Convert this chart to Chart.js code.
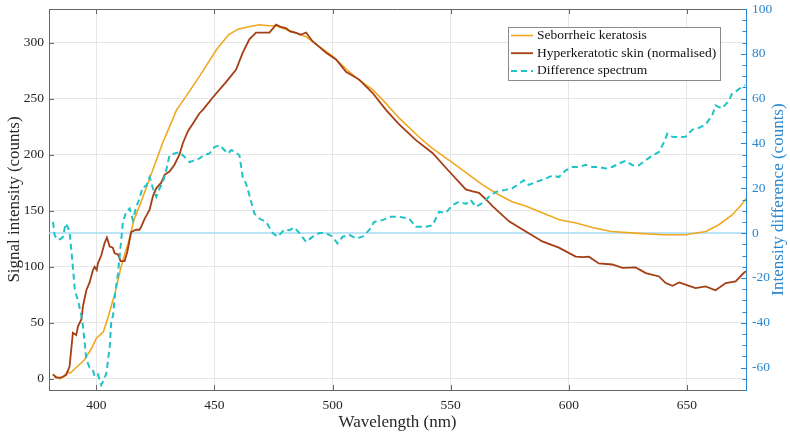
<!DOCTYPE html>
<html>
<head>
<meta charset="utf-8">
<script src="https://cdn.jsdelivr.net/npm/chart.js@4.4.1/dist/chart.umd.min.js"></script>
<style>
  html, body { margin: 0; padding: 0; background: #ffffff; }
  #c { display: block; }
</style>
</head>
<body>
<canvas id="c" width="790" height="435"></canvas>
<script>
// ---------------- DATA ----------------
const seborrheicWl = [381.5, 384.5, 386.5, 387.5, 389, 392, 395, 398, 400, 403, 405, 408, 410.5, 413.5, 416, 419, 422.5, 428, 434, 438, 444, 451, 456, 460, 464, 469, 473, 476, 480, 483, 489, 494, 500, 506, 511, 517, 522.5, 528, 536.5, 542, 550, 556.5, 563.5, 570.5, 576, 582, 589, 596, 603, 610, 618, 628, 640, 649.5, 658, 663.5, 669, 673, 675];
const seborrheicVal = [4, 0, 2, 6, 5, 11, 17, 27, 36, 42, 55, 77, 100, 121, 142, 158, 178, 210, 240, 252, 271, 294, 307, 312, 314, 316, 315, 315, 312, 310, 305, 297, 288, 276, 267, 258, 246, 233, 216, 206, 194, 184, 173, 164, 158, 154, 148, 142, 139, 135, 131.5, 130, 128.5, 128.5, 131.5, 137.5, 146, 155, 161];

const hyperWl = [381.7, 383, 385, 387.3, 388.7, 390.1, 391.5, 392.3, 393.7, 394.4, 395.8, 397.2, 398.6, 399.3, 400.2, 400.7, 402.1, 403.5, 404.5, 405.7, 407, 407.8, 409.2, 410.3, 412, 413.1, 414.8, 416.9, 418.3, 419.1, 420.5, 422.6, 424, 425.4, 427.5, 428.9, 431, 433.1, 435.2, 436.6, 438.8, 441, 443.7, 445.1, 449.3, 455, 459.2, 462, 464.8, 467.6, 470, 473.3, 476.1, 478, 480.3, 482, 484.6, 486.5, 488.8, 491.6, 494.5, 497.3, 501.5, 505.7, 511.3, 517, 522.6, 528.2, 535.3, 542.3, 549.4, 556.4, 559, 562, 565, 567.7, 574.7, 581.8, 588.8, 595.8, 602.9, 606, 608.5, 612.7, 618.4, 622.7, 628.3, 632.6, 638.2, 641, 643.9, 646.7, 650.9, 653.7, 657.9, 662.1, 666.4, 670.6, 674, 675];
const hyperVal = [4, 1, 1, 3.6, 11, 41, 39, 47, 53, 65, 79, 86, 97, 100, 97, 103, 110, 121, 126, 118, 117, 112, 111, 105, 105, 113, 131, 133, 133, 136, 143, 151, 163, 170, 175, 182, 185, 191, 200, 210, 221, 228, 237, 240, 251, 265, 276, 291, 303, 309, 309, 309, 316, 314, 313, 310, 308.6, 307, 309, 301, 296, 291, 285, 274, 267, 255, 240, 227, 213, 201.5, 185, 169, 167.5, 166, 160, 154, 140.5, 131.5, 122.6, 117, 109, 108.5, 109, 103, 102, 99, 99.4, 94.3, 91.3, 85.4, 83, 86, 83, 81, 82.4, 79, 85.4, 87, 94.4, 96];

const diffWl = [381.7, 382.4, 383.8, 385.3, 386, 387, 388, 388.7, 390.1, 390.9, 391.5, 392.3, 393, 393.7, 394.4, 395.1, 395.8, 397.2, 398.6, 399.3, 400.7, 402.1, 403.2, 404.3, 405.7, 406.4, 407.1, 408, 409.2, 410.3, 411.3, 412.7, 414.1, 415.5, 416.9, 418.3, 419.7, 421.1, 422.6, 424, 425.4, 426.8, 428.2, 429.6, 431, 433.1, 435.2, 437.4, 439.5, 441.6, 443.7, 445.8, 447.9, 450, 452.2, 454.3, 455.7, 457.1, 458.5, 460.6, 462, 463.4, 464.8, 466.9, 469, 471.9, 474.7, 476.8, 479.6, 481.7, 483.8, 486, 488.8, 491.6, 494.4, 497.3, 500, 502.1, 504.3, 507.1, 509.9, 512.7, 515.5, 517.6, 521.1, 524.7, 528.2, 532.4, 535.3, 539.5, 542.3, 545.1, 547.9, 550.7, 553.6, 556.4, 558.5, 560.6, 563.4, 566.2, 569.1, 573.3, 576.1, 578.9, 581, 583.1, 586, 590.2, 593, 595.8, 598.7, 601.5, 604.3, 607.1, 609.9, 612.7, 615.6, 618.4, 621.2, 624, 626.9, 629.7, 632.5, 635.4, 638.2, 640.3, 641.7, 643.8, 646.6, 649.4, 652.3, 655.1, 657.9, 660.7, 662.1, 664.8, 667.7, 669, 673, 674.5];
const diffVal = [5, -1, -3, -2.4, -1.5, 4.3, 2.5, 0.6, -15, -25, -27.6, -30, -33.5, -37, -41.7, -49, -56.5, -60, -61, -64, -63, -67.7, -65.5, -62.5, -50.6, -38.7, -37, -26.8, -18, -6, 5, 9.5, 11, 5.8, 11.7, 15.4, 20.6, 21, 25, 19.9, 16.2, 19.9, 22.8, 28, 34.7, 35.5, 36.2, 34, 31.7, 32.5, 33.3, 35, 35.5, 38.4, 39.2, 37, 35.5, 37, 36.5, 34.7, 25, 22, 17, 8.8, 6.5, 5, 0, -1.6, 1.5, 1.3, 2.5, 0, -3.9, -1.6, 0, 0, -1.6, -4.6, -1.6, -0.8, -2.4, -1.6, 1.3, 5, 5.8, 7.3, 7.3, 6.5, 2.8, 2.8, 3.5, 9.5, 9, 12.5, 14, 13, 14.8, 11.7, 13.4, 16.2, 18.4, 19.3, 20, 22, 23.6, 21.5, 22.8, 24.3, 25.7, 25, 28, 29.5, 29.5, 30.5, 29.5, 29.5, 28.8, 29.5, 31, 32.3, 30.3, 30.3, 32.5, 34.7, 36.2, 40.6, 44.4, 43, 42.9, 43, 46.2, 47, 48.5, 52.5, 57, 55.6, 59, 62, 65, 66];

const zeroLineWl = [380, 675];
const zeroLineVal = [0, 0];

const seriesLabels = ['Seborrheic keratosis', 'Hyperkeratotic skin (normalised)', 'Difference spectrum'];

const xTicks = [400, 450, 500, 550, 600, 650];
const yLeftTicks = [0, 50, 100, 150, 200, 250, 300];
const yRightTicks = [-60, -40, -20, 0, 20, 40, 60, 80, 100];
const yRightMinorStep = 5;

const xTitle = 'Wavelength (nm)';
const yLeftTitle = 'Signal intensity (counts)';
const yRightTitle = 'Intensity difference (counts)';

// ---------------- STYLE ----------------
const FONT = "'Liberation Serif', 'Times New Roman', serif";
const C_ORANGE = '#F0A820';
const C_BROWN = '#A53E15';
const C_CYAN = '#1FC3C6';
const C_BLUE = '#2A87CF';
const C_ZERO = '#A6DBF4';
const C_AXIS = '#666666';
const C_GRID = '#E6E6E6';
const C_TEXT = '#262626';

const pts = (xs, ys) => xs.map((v, i) => ({ x: v, y: ys[i] }));

const decor = {
  id: 'decor',
  afterDraw(chart) {
    const { ctx, chartArea: a, scales } = chart;
    const x = scales.x, y = scales.y, y1 = scales.y1;
    const line = (x1, y1_, x2, y2) => { ctx.beginPath(); ctx.moveTo(x1, y1_); ctx.lineTo(x2, y2); ctx.stroke(); };
    ctx.save();
    ctx.lineWidth = 1;
    ctx.strokeStyle = C_AXIS;
    // top frame
    line(a.left, a.top + 0.5, a.right, a.top + 0.5);
    // x ticks (bottom and top, inward)
    x.ticks.forEach(t => {
      const px = Math.round(x.getPixelForValue(t.value)) + 0.5;
      line(px, a.bottom, px, a.bottom - 5);
      line(px, a.top, px, a.top + 5);
    });
    // left ticks inward
    y.ticks.forEach(t => {
      const py = Math.round(y.getPixelForValue(t.value)) + 0.5;
      line(a.left, py, a.left + 5, py);
    });
    // right ticks inward (major + minor)
    ctx.strokeStyle = C_BLUE;
    for (let v = y1.min; v <= y1.max; v += yRightMinorStep) {
      const py = Math.round(y1.getPixelForValue(v)) + 0.5;
      const len = yRightTicks.includes(v) ? 5 : 3.5;
      line(a.right - len, py, a.right, py);
    }
    // right title, rotated to read bottom-to-top
    ctx.save();
    ctx.translate(779, (a.top + a.bottom) / 2);
    ctx.rotate(-Math.PI / 2);
    ctx.font = "17px " + FONT;
    ctx.fillStyle = C_BLUE;
    ctx.textAlign = 'center';
    ctx.textBaseline = 'middle';
    ctx.fillText(yRightTitle, 0, 0);
    ctx.restore();

    // legend
    const items = chart.data.datasets.filter(d => d.label);
    ctx.font = "13.5px " + FONT;
    const maxW = Math.max(...items.map(d => ctx.measureText(d.label).width));
    const bx = 508.5, by = 27.5, rowH = 17.7;
    const textX = 537;
    const bw = Math.round(textX + maxW + 4 - bx);
    const bh = 53;
    ctx.fillStyle = '#ffffff';
    ctx.fillRect(bx, by, bw, bh);
    ctx.strokeStyle = '#8a8a8a';
    ctx.lineWidth = 1;
    ctx.strokeRect(bx, by, bw, bh);
    items.forEach((d, i) => {
      const cy = by + 8 + i * rowH;
      ctx.strokeStyle = d.borderColor;
      ctx.lineWidth = d.borderWidth;
      ctx.setLineDash(d.borderDash || []);
      line(511, cy, 533, cy);
      ctx.setLineDash([]);
      ctx.fillStyle = '#111111';
      ctx.textAlign = 'left';
      ctx.textBaseline = 'middle';
      ctx.fillText(d.label, textX, cy);
    });
    ctx.restore();
  }
};

const tickFont = { family: FONT, size: 13.5 };
const titleFont = { family: FONT, size: 17 };
const noPad = s => { s.paddingTop = 0; s.paddingBottom = 0; s.paddingLeft = 0; s.paddingRight = 0; };

new Chart(document.getElementById('c'), {
  type: 'line',
  data: {
    datasets: [
      { data: pts(zeroLineWl, zeroLineVal), yAxisID: 'y1', borderColor: C_ZERO, borderWidth: 1.5, pointRadius: 0, order: 3 },
      { label: seriesLabels[0], data: pts(seborrheicWl, seborrheicVal), yAxisID: 'y', borderColor: C_ORANGE, borderWidth: 1.6, pointRadius: 0, order: 2 },
      { label: seriesLabels[1], data: pts(hyperWl, hyperVal), yAxisID: 'y', borderColor: C_BROWN, borderWidth: 1.8, pointRadius: 0, order: 1 },
      { label: seriesLabels[2], data: pts(diffWl, diffVal), yAxisID: 'y1', borderColor: C_CYAN, borderWidth: 2, borderDash: [6, 4], pointRadius: 0, order: 0 }
    ]
  },
  options: {
    responsive: false,
    animation: false,
    devicePixelRatio: 1,
    layout: { padding: { top: 9, left: 0, right: 0, bottom: 0 } },
    elements: { line: { tension: 0, fill: false } },
    plugins: { legend: { display: false }, tooltip: { enabled: false } },
    scales: {
      x: {
        type: 'linear', position: 'bottom', min: 380, max: 675,
        afterBuildTicks: s => { s.ticks = xTicks.map(v => ({ value: v })); },
        afterFit: s => { s.height = 45; noPad(s); },
        grid: { color: C_GRID, drawTicks: false, lineWidth: 1 },
        border: { display: true, color: C_AXIS, width: 1 },
        ticks: { font: tickFont, color: C_TEXT, padding: 7, autoSkip: false, maxRotation: 0 },
        title: { display: true, text: xTitle, font: titleFont, color: C_TEXT, padding: { top: 0, bottom: 2 } }
      },
      y: {
        type: 'linear', position: 'left', min: -10, max: 330,
        afterBuildTicks: s => { s.ticks = yLeftTicks.map(v => ({ value: v })); },
        afterFit: s => { s.width = 49; noPad(s); },
        grid: { color: C_GRID, drawTicks: false, lineWidth: 1 },
        border: { display: true, color: C_AXIS, width: 1 },
        ticks: { font: tickFont, color: C_TEXT, padding: 5, autoSkip: false },
        title: { display: true, text: yLeftTitle, font: titleFont, color: C_TEXT, padding: { top: 4, bottom: 0 } }
      },
      y1: {
        type: 'linear', position: 'right', min: -70, max: 100,
        afterBuildTicks: s => { s.ticks = yRightTicks.map(v => ({ value: v })); },
        afterFit: s => { s.width = 44; noPad(s); },
        grid: { display: false, drawTicks: false },
        border: { display: true, color: C_BLUE, width: 1 },
        ticks: { font: tickFont, color: C_BLUE, padding: 6, autoSkip: false },
        title: { display: false }
      }
    }
  },
  plugins: [decor]
});
</script>
</body>
</html>
